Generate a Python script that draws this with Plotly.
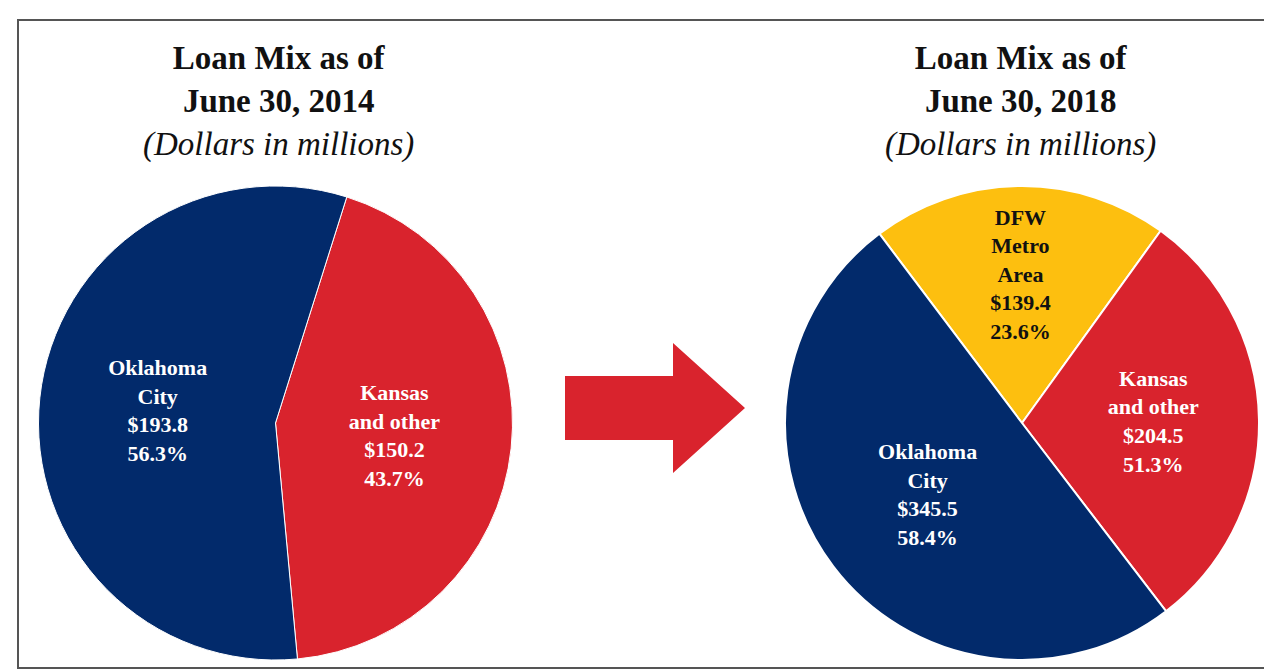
import plotly.graph_objects as go

# Data
labels_2014 = ["Kansas<br>and other", "Oklahoma<br>City"]
values_2014 = [150.2, 193.8]
pcts_2014 = ["43.7%", "56.3%"]

labels_2018 = ["DFW<br>Metro<br>Area", "Kansas<br>and other", "Oklahoma<br>City"]
values_2018 = [139.4, 204.5, 345.5]
pcts_2018 = ["23.6%", "51.3%", "58.4%"]

navy = "#022a6b"
red = "#d9232d"
gold = "#fdbf0f"

W, H = 1272, 669


def slice_text(labels, values, pcts):
    return [f"<b>{l}<br>${v:.1f}<br>{p}</b>" for l, v, p in zip(labels, values, pcts)]


fig = go.Figure()
fig.add_trace(go.Pie(
    labels=labels_2014, values=values_2014, text=slice_text(labels_2014, values_2014, pcts_2014),
    textinfo="text", hoverinfo="label+value", sort=False, direction="clockwise", rotation=17.5,
    marker=dict(colors=[red, navy], line=dict(color="white", width=1)),
    textfont=dict(family="Liberation Serif", size=22, color="white"),
    insidetextorientation="horizontal", textposition="inside",
    domain=dict(x=[28 / W, 507 / W], y=[1 - 652 / H, 1 - 178 / H]), showlegend=False,
))
fig.add_trace(go.Pie(
    labels=labels_2018, values=values_2018, text=slice_text(labels_2018, values_2018, pcts_2018),
    textinfo="text", hoverinfo="label+value", sort=False, direction="clockwise", rotation=-37,
    marker=dict(colors=[gold, red, navy], line=dict(color="white", width=2)),
    textfont=dict(family="Liberation Serif", size=22, color=["#111111", "white", "white"]),
    insidetextorientation="horizontal", textposition="inside",
    domain=dict(x=[776 / W, 1252 / W], y=[1 - 652 / H, 1 - 178 / H]), showlegend=False,
))

# Titles
for xc, year in [(270, 2014), (1012, 2018)]:
    fig.add_annotation(x=xc / W, y=1 - 30 / H, xref="paper", yref="paper",
                       xanchor="center", yanchor="top", showarrow=False,
                       text=f"<b>Loan Mix as of<br>June 30, {year}</b><br><i>(Dollars in millions)</i>",
                       font=dict(family="Liberation Serif", size=33, color="#111111"))

# Arrow and frame
fig.add_shape(type="path", xref="x", yref="y",
              path="M557,368 L665,368 L665,335 L737,400 L665,465 L665,432 L557,432 Z",
              fillcolor=red, line=dict(width=0))
fig.add_shape(type="rect", xref="x", yref="y", x0=10, y0=12, x1=1262, y1=660,
              line=dict(color="#555555", width=2), fillcolor="rgba(0,0,0,0)")

fig.update_layout(
    width=W, height=H, margin=dict(l=0, r=0, t=0, b=0),
    paper_bgcolor="white", plot_bgcolor="rgba(0,0,0,0)",
    xaxis=dict(range=[0, W], visible=False, fixedrange=True),
    yaxis=dict(range=[H, 0], visible=False, fixedrange=True),
)
fig.write_html("out.html")
